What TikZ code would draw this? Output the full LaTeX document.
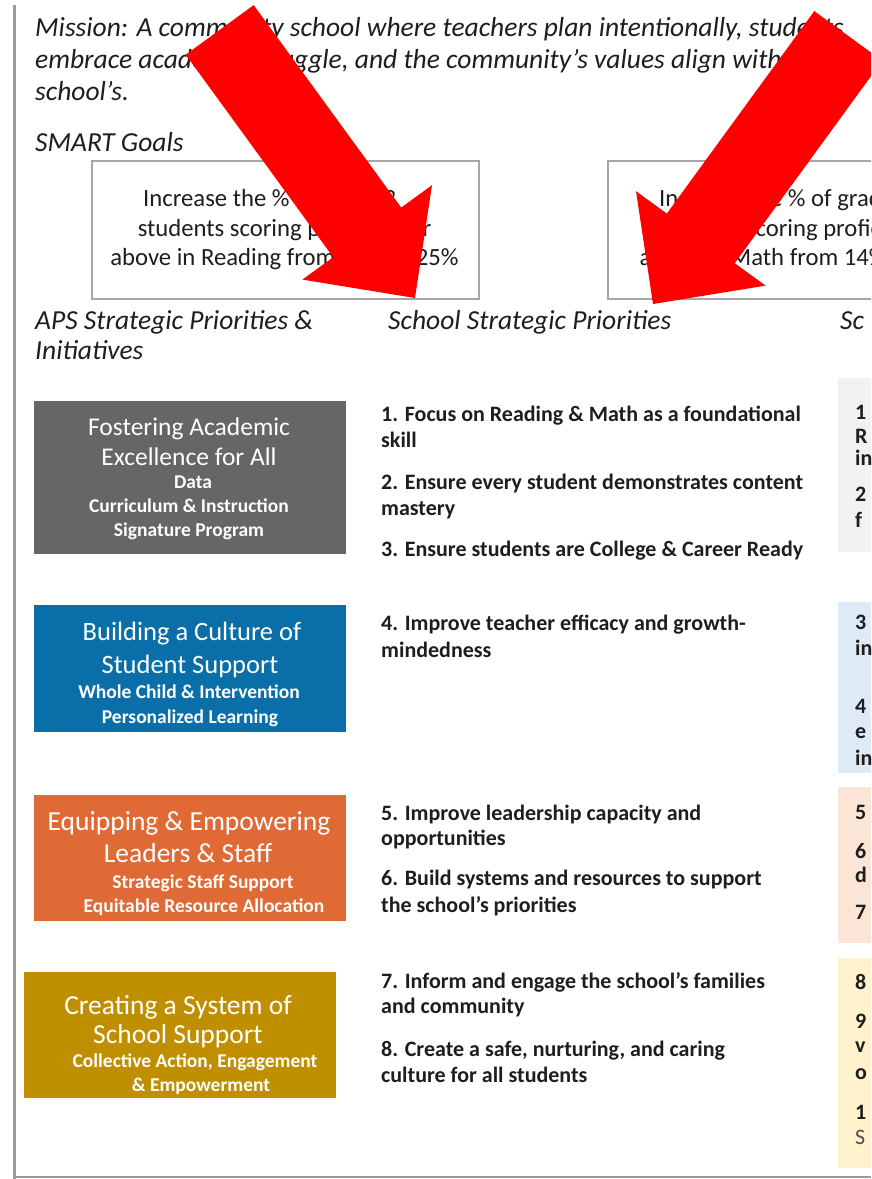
\documentclass[tikz,border=0pt]{standalone}
\usepackage{fontspec}
\setmainfont{Carlito}
\definecolor{ink}{HTML}{1E1E1E}
\definecolor{frame}{HTML}{A6A6A6}
\definecolor{edge}{HTML}{9A9A9A}
\definecolor{cgray}{HTML}{666666}
\definecolor{cblue}{HTML}{0A6FA8}
\definecolor{corange}{HTML}{E06A36}
\definecolor{cgold}{HTML}{BF8F00}
\definecolor{rgray}{HTML}{F2F2F2}
\definecolor{rblue}{HTML}{DEEBF7}
\definecolor{rpeach}{HTML}{FBE5D6}
\definecolor{ryellow}{HTML}{FFF2CC}
\definecolor{arrowred}{HTML}{FF0000}
\tikzset{
  txt/.style={anchor=base west, inner sep=0pt, text=ink},
  mis/.style={txt, font=\fontsize{27.5}{32}\selectfont\itshape},
  head/.style={txt, font=\fontsize{27.5}{32}\selectfont\itshape},
  mid/.style={txt, font=\fontsize{22}{26}\selectfont\bfseries},
  goal/.style={anchor=base, inner sep=0pt, text=ink, font=\fontsize{24.7}{29}\selectfont},
  goalw/.style={goal, anchor=base west},
  ttl/.style={anchor=base, inner sep=0pt, text=white, font=\fontsize{27.5}{30}\selectfont},
  sub/.style={anchor=base, inner sep=0pt, text=white, font=\fontsize{19.5}{22}\selectfont\bfseries},
  cbox/.style={draw=none, inner sep=0pt, minimum width=312pt},
  rbox/.style={draw=none, inner sep=0pt, anchor=north west, minimum width=60pt},
  gbox/.style={draw=frame, line width=2pt, inner sep=0pt, anchor=north west, minimum width=387pt, minimum height=138pt},
  bigarrow/.style={fill=arrowred, draw=none}
}
\begin{document}
\begin{tikzpicture}[x=1pt,y=-1pt]
\useasboundingbox (0,0) rectangle (871,1179);
\clip (0,0) rectangle (871,1179);
\fill[white] (0,0) rectangle (871,1179);
% page edges
\draw[edge, line width=3pt] (14,5) -- (14,1179);
\draw[edge, line width=2pt] (14,1177) -- (871,1177);
% mission
\node[mis] (m1) at (35,36) {Mission: A community school where teachers plan intentionally, students};
\node[mis] (m2) at (35,68) {embrace academic struggle, and the community's values align with the};
\node[mis] (m3) at (35,100) {school’s.};
\node[head] (smart) at (35,151) {SMART Goals};
% goal boxes
\node[gbox] (g1) at (91,160) {};
\node[gbox] (g2) at (607,160) {};
\node[goalw] (g1a) at (143,206) {Increase the \% of grade 3};
\node[goal] (g1b) at (284.5,236) {students scoring proficient or};
\node[goal] (g1c) at (284.5,265) {above in Reading from 14\% to 25\%};
\node[goalw] (g2a) at (659,206) {Increase the \% of grade 3};
\node[goal] (g2b) at (800.5,236) {students scoring proficient or};
\node[goal] (g2c) at (800.5,265) {above in Math from 14\% to 25\%};
% column headings
\node[head] (h1a) at (35,329) {APS Strategic Priorities \&};
\node[head] (h1b) at (35,359) {Initiatives};
\node[head] (h2) at (388,329) {School Strategic Priorities};
\node[head] (h3) at (840,329) {Sc};
% left coloured boxes
\node[cbox, fill=cgray, minimum height=153pt] (b1) at (190,477.5) {};
\node[ttl, font=\fontsize{25.5}{30}\selectfont] (b1t1) at (189,435) {Fostering Academic};
\node[ttl, font=\fontsize{25.5}{30}\selectfont] (b1t2) at (189,465) {Excellence for All};
\node[sub] (b1s1) at (193,488) {Data};
\node[sub] (b1s2) at (189,512) {Curriculum \& Instruction};
\node[sub] (b1s3) at (189,536) {Signature Program};
\node[cbox, fill=cblue, minimum height=127pt] (b2) at (190,668.5) {};
\node[ttl, font=\fontsize{26.5}{30}\selectfont] (b2t1) at (192,640) {Building a Culture of};
\node[ttl, font=\fontsize{26.5}{30}\selectfont] (b2t2) at (190,673) {Student Support};
\node[sub] (b2s1) at (189,698) {Whole Child \& Intervention};
\node[sub] (b2s2) at (190,723) {Personalized Learning};
\node[cbox, fill=corange, minimum height=126pt] (b3) at (190,858) {};
\node[ttl] (b3t1) at (189,830) {Equipping \& Empowering};
\node[ttl] (b3t2) at (188,862) {Leaders \& Staff};
\node[sub] (b3s1) at (203,888) {Strategic Staff Support};
\node[sub] (b3s2) at (204,912) {Equitable Resource Allocation};
\node[cbox, fill=cgold, minimum height=126pt] (b4) at (180,1035) {};
\node[ttl] (b4t1) at (178,1014) {Creating a System of};
\node[ttl] (b4t2) at (178,1043) {School Support};
\node[sub] (b4s1) at (195,1067) {Collective Action, Engagement};
\node[sub] (b4s2) at (201,1091) {\& Empowerment};
% middle column
\node[mid] (p1a) at (381,421) {1. Focus on Reading \& Math as a foundational};
\node[mid] (p1b) at (381,447) {skill};
\node[mid] (p2a) at (381,489) {2. Ensure every student demonstrates content};
\node[mid] (p2b) at (381,515) {mastery};
\node[mid] (p3a) at (381,556) {3. Ensure students are College \& Career Ready};
\node[mid] (p4a) at (381,630) {4. Improve teacher efficacy and growth-};
\node[mid] (p4b) at (381,657) {mindedness};
\node[mid] (p5a) at (381,820) {5. Improve leadership capacity and};
\node[mid] (p5b) at (381,845) {opportunities};
\node[mid] (p6a) at (381,885) {6. Build systems and resources to support};
\node[mid] (p6b) at (381,912) {the school’s priorities};
\node[mid] (p7a) at (381,988) {7. Inform and engage the school’s families};
\node[mid] (p7b) at (381,1013) {and community};
\node[mid] (p8a) at (381,1056) {8. Create a safe, nurturing, and caring};
\node[mid] (p8b) at (381,1082) {culture for all students};
% right column (cut off)
\node[rbox, fill=rgray, minimum height=174pt] (r1) at (838,378) {};
\node[rbox, fill=rblue, minimum height=171pt] (r2) at (838,602) {};
\node[rbox, fill=rpeach, minimum height=156pt] (r3) at (838,787) {};
\node[rbox, fill=ryellow, minimum height=210pt] (r4) at (838,958) {};
\node[mid] (q1) at (855,419) {1};
\node[mid] (q2) at (855,443) {R};
\node[mid] (q3) at (855,465) {in};
\node[mid] (q4) at (855,501) {2};
\node[mid] (q5) at (855,527) {f};
\node[mid] (q6) at (855,629) {3};
\node[mid] (q7) at (855,655) {in};
\node[mid] (q8) at (855,713) {4};
\node[mid] (q9) at (855,738) {e};
\node[mid] (q10) at (855,765) {in};
\node[mid] (q11) at (855,819) {5};
\node[mid] (q12) at (855,858) {6};
\node[mid] (q13) at (855,882) {d};
\node[mid] (q14) at (855,919) {7};
\node[mid] (q15) at (855,989) {8};
\node[mid] (q16) at (855,1028) {9};
\node[mid] (q17) at (855,1052) {v};
\node[mid] (q18) at (855,1079) {o};
\node[mid] (q19) at (855,1119) {1};
\node[mid, font=\fontsize{22}{26}\selectfont, text=black!70] (q20) at (855,1144) {S};
% red arrows
\fill[bigarrow] (253.7,5.1) -- (401.2,207.6) -- (432,185.2) -- (415,298) -- (302.4,279.6) -- (333.2,257.2) -- (185.7,54.7) -- cycle;
\fill[bigarrow] (814.3,11.1) -- (666.8,213.6) -- (636,191.2) -- (653,304) -- (765.6,285.6) -- (734.8,263.2) -- (882.3,60.7) -- cycle;
\end{tikzpicture}
\end{document}
